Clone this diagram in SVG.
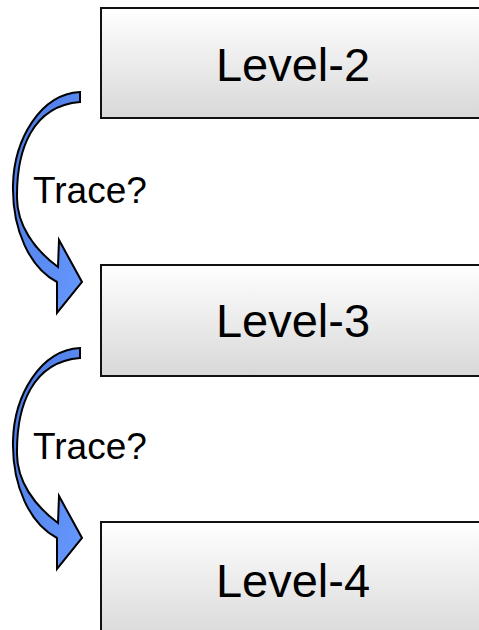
<svg xmlns="http://www.w3.org/2000/svg" width="479" height="630" viewBox="0 0 479 630">
  <defs>
    <linearGradient id="boxFill" x1="0" y1="0" x2="0" y2="1">
      <stop offset="0" stop-color="#ffffff"/>
      <stop offset="1" stop-color="#d8d8d8"/>
    </linearGradient>
    <linearGradient id="arrowFill" x1="0" y1="0" x2="1" y2="1">
      <stop offset="0" stop-color="#4a78e0"/>
      <stop offset="1" stop-color="#6699ff"/>
    </linearGradient>
    <!-- curved right arrow, drawn once and reused -->
    <path id="curvedArrow" d="M80,92 C40,94 14,140 13,185 C12,230 30,268 57,282 L57,313 L82,282 L59,240 L58,267 C35,250 16,225 17,195 C17,150 32,106 80,102 Z"/>
  </defs>
  <style>
    .box { fill: url(#boxFill); stroke: #111; stroke-width: 2; }
    .label { font-family: "Liberation Sans", Arial, sans-serif; fill: #000; }
    .level { font-size: 47px; text-anchor: middle; }
    .trace { font-size: 37px; }
    .arrow { fill: url(#arrowFill); stroke: #000; stroke-width: 2; stroke-linejoin: miter; }
  </style>
  <rect width="479" height="630" fill="#ffffff"/>

  <g id="connectors">
    <use href="#curvedArrow" class="arrow"/>
    <use href="#curvedArrow" class="arrow" transform="translate(0,256)"/>
  </g>

  <g id="level2">
    <rect class="box" x="101" y="8" width="400" height="110"/>
    <text class="label level" x="293" y="81">Level-2</text>
  </g>
  <g id="level3">
    <rect class="box" x="101" y="265" width="400" height="111"/>
    <text class="label level" x="293" y="337">Level-3</text>
  </g>
  <g id="level4">
    <rect class="box" x="101" y="522" width="400" height="120"/>
    <text class="label level" x="293" y="597">Level-4</text>
  </g>

  <g id="trace-labels">
    <text class="label trace" x="33" y="203">Trace?</text>
    <text class="label trace" x="33" y="459">Trace?</text>
  </g>
</svg>
